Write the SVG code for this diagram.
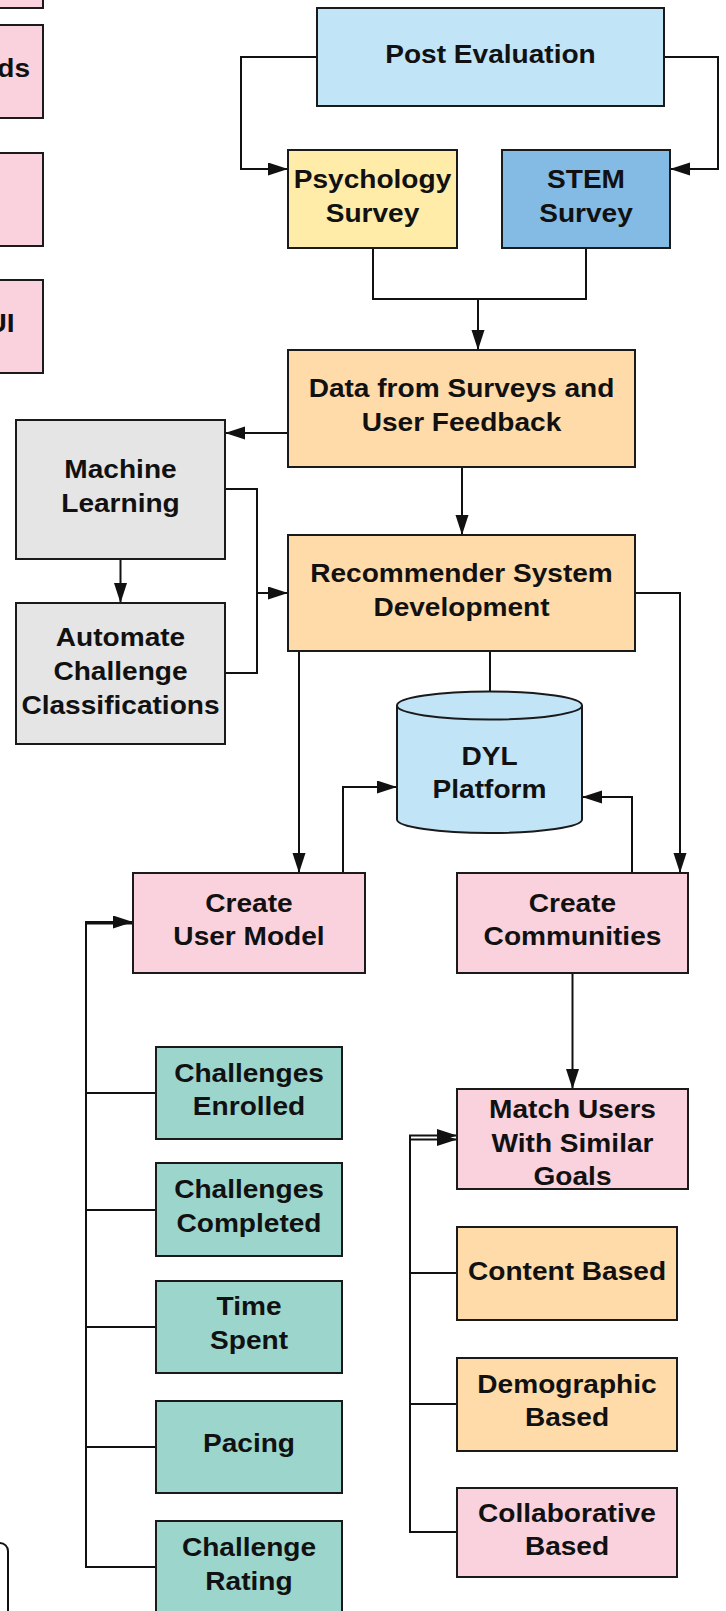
<svg xmlns="http://www.w3.org/2000/svg" width="726" height="1611" viewBox="0 0 726 1611">
<style>
.b{stroke:#1a1a1a;stroke-width:2}
.blue{fill:#C1E4F7}.yel{fill:#FFECA9}.stem{fill:#83BBE5}.org{fill:#FFDBA9}.gry{fill:#E5E5E5}.pnk{fill:#F9D2DD}.tea{fill:#9BD5CB}
text{font-family:"Liberation Sans",Arial,sans-serif;font-weight:bold;font-size:26px;fill:#111;text-anchor:middle}
.sm{text-anchor:end}
.c{fill:none;stroke:#111;stroke-width:2}
</style>
<defs>
<marker id="a" markerUnits="userSpaceOnUse" markerWidth="21" markerHeight="14" refX="20" refY="6.5" orient="auto">
<path d="M0,0 L20,6.5 L0,13 z" fill="#111"/>
</marker>
</defs>
<rect width="726" height="1611" fill="#fff"/>

<g id="left-partial">
<rect class="b pnk" x="-10" y="-10" width="53" height="18"/>
<rect class="b pnk" x="-10" y="25" width="53" height="93"/>
<text class="sm" transform="matrix(1.08 0 0 1 30 0)" x="0" y="77">ds</text>
<rect class="b pnk" x="-10" y="153" width="53" height="93"/>
<rect class="b pnk" x="-10" y="280" width="53" height="93"/>
<text class="sm" transform="matrix(1.08 0 0 1 14.5 0)" x="0" y="332">UI</text>
<rect x="-20" y="1543" width="28" height="90" rx="8" fill="none" stroke="#111" stroke-width="2"/>
</g>

<g id="connectors">
<polyline class="c" points="317,57 241,57 241,169 288,169" marker-end="url(#a)"/>
<polyline class="c" points="664,57 718,57 718,169 670,169" marker-end="url(#a)"/>
<polyline class="c" points="373,248 373,299 586,299 586,248"/>
<polyline class="c" points="478,299 478,350" marker-end="url(#a)"/>
<polyline class="c" points="288,433 225,433" marker-end="url(#a)"/>
<polyline class="c" points="462,467 462,535" marker-end="url(#a)"/>
<polyline class="c" points="225,489 257,489 257,593 288,593" marker-end="url(#a)"/>
<polyline class="c" points="225,673 257,673 257,593"/>
<polyline class="c" points="120.5,559 120.5,603" marker-end="url(#a)"/>
<polyline class="c" points="299,651 299,873" marker-end="url(#a)"/>
<polyline class="c" points="490,651 490,692"/>
<polyline class="c" points="635,593 680,593 680,873" marker-end="url(#a)"/>
<polyline class="c" points="343,873 343,787 397,787" marker-end="url(#a)"/>
<polyline class="c" points="632,873 632,797 582,797" marker-end="url(#a)"/>
<polyline class="c" points="572.5,973 572.5,1089" marker-end="url(#a)"/>
<polyline class="c" points="156,1567 86,1567 86,922 133,922" marker-end="url(#a)"/>
<polyline class="c" points="86,923.5 133,923.5"/>
<polyline class="c" points="156,1093 86,1093"/>
<polyline class="c" points="156,1210 86,1210"/>
<polyline class="c" points="156,1327 86,1327"/>
<polyline class="c" points="156,1447 86,1447"/>
<polyline class="c" points="457,1532 410,1532 410,1135.5 457,1135.5" marker-end="url(#a)"/>
<polyline class="c" points="410,1139.5 457,1139.5" marker-end="url(#a)"/>
<polyline class="c" points="457,1273 410,1273"/>
<polyline class="c" points="457,1404 410,1404"/>
</g>

<g id="post-evaluation">
<rect class="b blue" x="317" y="8" width="347" height="98"/>
<text transform="matrix(1.08 0 0 1 490.5 0)" x="0" y="63">Post Evaluation</text>
</g>
<g id="psychology-survey">
<rect class="b yel" x="288" y="150" width="169" height="98"/>
<text transform="matrix(1.08 0 0 1 372.5 0)"><tspan x="0" y="188">Psychology</tspan><tspan x="0" y="222">Survey</tspan></text>
</g>
<g id="stem-survey">
<rect class="b stem" x="502" y="150" width="168" height="98"/>
<text transform="matrix(1.08 0 0 1 586 0)"><tspan x="0" y="188">STEM</tspan><tspan x="0" y="222">Survey</tspan></text>
</g>
<g id="data-surveys">
<rect class="b org" x="288" y="350" width="347" height="117"/>
<text transform="matrix(1.08 0 0 1 461.5 0)"><tspan x="0" y="397">Data from Surveys and</tspan><tspan x="0" y="431">User Feedback</tspan></text>
</g>
<g id="machine-learning">
<rect class="b gry" x="16" y="420" width="209" height="139"/>
<text transform="matrix(1.08 0 0 1 120.5 0)"><tspan x="0" y="478">Machine</tspan><tspan x="0" y="512">Learning</tspan></text>
</g>
<g id="automate">
<rect class="b gry" x="16" y="603" width="209" height="141"/>
<text transform="matrix(1.08 0 0 1 120.5 0)"><tspan x="0" y="646">Automate</tspan><tspan x="0" y="680">Challenge</tspan><tspan x="0" y="714">Classifications</tspan></text>
</g>
<g id="recommender">
<rect class="b org" x="288" y="535" width="347" height="116"/>
<text transform="matrix(1.08 0 0 1 461.5 0)"><tspan x="0" y="582">Recommender System</tspan><tspan x="0" y="616">Development</tspan></text>
</g>
<g id="dyl-platform">
<path class="b blue" d="M397,705.5 L397,819.5 A92.5,13.5 0 0 0 582,819.5 L582,705.5 A92.5,14 0 0 0 397,705.5 z"/>
<path class="b" fill="none" d="M397,705.5 A92.5,14 0 0 0 582,705.5"/>
<text transform="matrix(1.08 0 0 1 489.5 0)"><tspan x="0" y="765">DYL</tspan><tspan x="0" y="798">Platform</tspan></text>
</g>
<g id="create-user-model">
<rect class="b pnk" x="133" y="873" width="232" height="100"/>
<text transform="matrix(1.08 0 0 1 249 0)"><tspan x="0" y="912">Create</tspan><tspan x="0" y="945">User Model</tspan></text>
</g>
<g id="create-communities">
<rect class="b pnk" x="457" y="873" width="231" height="100"/>
<text transform="matrix(1.08 0 0 1 572.5 0)"><tspan x="0" y="912">Create</tspan><tspan x="0" y="945">Communities</tspan></text>
</g>
<g id="challenges-enrolled">
<rect class="b tea" x="156" y="1047" width="186" height="92"/>
<text transform="matrix(1.08 0 0 1 249 0)"><tspan x="0" y="1082">Challenges</tspan><tspan x="0" y="1115">Enrolled</tspan></text>
</g>
<g id="challenges-completed">
<rect class="b tea" x="156" y="1163" width="186" height="93"/>
<text transform="matrix(1.08 0 0 1 249 0)"><tspan x="0" y="1198">Challenges</tspan><tspan x="0" y="1232">Completed</tspan></text>
</g>
<g id="time-spent">
<rect class="b tea" x="156" y="1281" width="186" height="92"/>
<text transform="matrix(1.08 0 0 1 249 0)"><tspan x="0" y="1315">Time</tspan><tspan x="0" y="1349">Spent</tspan></text>
</g>
<g id="pacing">
<rect class="b tea" x="156" y="1401" width="186" height="92"/>
<text transform="matrix(1.08 0 0 1 249 0)" x="0" y="1452">Pacing</text>
</g>
<g id="challenge-rating">
<rect class="b tea" x="156" y="1521" width="186" height="96"/>
<text transform="matrix(1.08 0 0 1 249 0)"><tspan x="0" y="1556">Challenge</tspan><tspan x="0" y="1590">Rating</tspan></text>
</g>
<g id="match-users">
<rect class="b pnk" x="457" y="1089" width="231" height="100"/>
<text transform="matrix(1.08 0 0 1 572.5 0)"><tspan x="0" y="1118">Match Users</tspan><tspan x="0" y="1152">With Similar</tspan><tspan x="0" y="1185">Goals</tspan></text>
</g>
<g id="content-based">
<rect class="b org" x="457" y="1227" width="220" height="93"/>
<text transform="matrix(1.08 0 0 1 567 0)" x="0" y="1280">Content Based</text>
</g>
<g id="demographic-based">
<rect class="b org" x="457" y="1358" width="220" height="93"/>
<text transform="matrix(1.08 0 0 1 567 0)"><tspan x="0" y="1393">Demographic</tspan><tspan x="0" y="1426">Based</tspan></text>
</g>
<g id="collaborative-based">
<rect class="b pnk" x="457" y="1488" width="220" height="89"/>
<text transform="matrix(1.08 0 0 1 567 0)"><tspan x="0" y="1522">Collaborative</tspan><tspan x="0" y="1555">Based</tspan></text>
</g>
</svg>
